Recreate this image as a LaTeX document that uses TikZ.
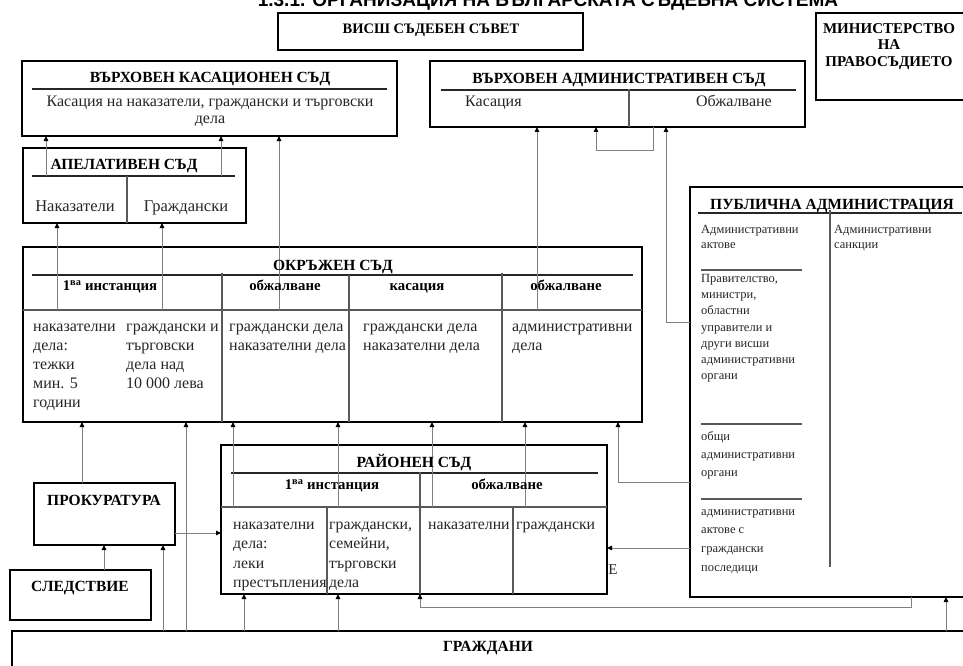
\documentclass[tikz,border=0pt]{standalone}
\usepackage{fontspec}
\setmainfont{Liberation Serif}
\newfontfamily\titlefont{Liberation Sans}
\usetikzlibrary{arrows.meta}
\newcommand\TLft[1]{\begin{tabular}{@{}l@{}}#1\end{tabular}}
\newcommand\TCtr[1]{\begin{tabular}{@{}c@{}}#1\end{tabular}}
\begin{document}
\begin{tikzpicture}[x=1pt,y=-1pt]
\tikzset{
  box/.style={draw=black, line width=2.7pt, fill=white, inner sep=0pt, outer sep=0pt, anchor=north west},
  conn/.style={draw=black!50, line width=0.9pt},
  arr/.style={conn, -{Triangle[length=5pt,width=4.5pt,color=black]}},
  uline/.style={draw=black!85, line width=1.7pt},
  divl/.style={draw=black!65, line width=1.1pt},
  ttl/.style={font=\bfseries\fontsize{15.5}{17}\selectfont, inner sep=0pt, anchor=base, yshift=-5pt},
  hdr/.style={font=\bfseries\fontsize{14.8}{16}\selectfont, inner sep=0pt, anchor=base, yshift=-3.4pt},
  body/.style 2 args={font=\fontsize{#1}{#2}\selectfont, text=black!85, inner sep=0pt, anchor=north west},
  bodyc/.style 2 args={body={#1}{#2}, anchor=north},
}
\clip (0,0) rectangle (963,666);
\fill[white] (0,0) rectangle (963,666);

% title (cut off at the top, as in the source)
\node[font=\titlefont\bfseries\fontsize{19}{21}\selectfont, anchor=base, inner sep=0pt] (title) at (548,7) {1.3.1. ОРГАНИЗАЦИЯ НА БЪЛГАРСКАТА СЪДЕБНА СИСТЕМА};

% boxes
\node[box, minimum width=305pt, minimum height=37pt] (vss) at (278,13) {};
\node[box, minimum width=160pt, minimum height=87pt] (min) at (816,13) {};
\node[box, minimum width=375pt, minimum height=75pt] (vks) at (22,61) {};
\node[box, minimum width=375pt, minimum height=66pt] (vas) at (430,61) {};
\node[box, minimum width=223pt, minimum height=75pt] (apel) at (23,148) {};
\node[box, minimum width=619pt, minimum height=175pt] (okr) at (23,247) {};
\node[box, minimum width=386pt, minimum height=149pt] (rai) at (221,445) {};
\node[box, minimum width=141pt, minimum height=62pt] (prok) at (34,483) {};
\node[box, minimum width=141pt, minimum height=50pt] (sled) at (10,570) {};
\node[box, minimum width=290pt, minimum height=410pt] (pa) at (690,187) {};
\node[box, minimum width=970pt, minimum height=50pt] (grazh) at (12,631) {};

% inner lines
\draw[uline] (32,89) -- (387,89);
\draw[uline] (441,90) -- (796,90);
\draw[divl] (629,89) -- (629,127);
\draw[uline] (32,176) -- (235,176);
\draw[divl] (127,176) -- (127,223);
\draw[uline] (32,275) -- (633,275);
\draw[divl] (23,310) -- (642,310);
\draw[divl] (222,273) -- (222,422);
\draw[divl] (349,275) -- (349,422);
\draw[divl] (502,273) -- (502,422);
\draw[uline] (231,473) -- (598,473);
\draw[divl] (221,507) -- (607,507);
\draw[divl] (420,472) -- (420,594);
\draw[divl] (327,507) -- (327,594);
\draw[divl] (513,507) -- (513,594);
\draw[uline] (698,213) -- (962,213);
\draw[divl] (830,210) -- (830,567);
\draw[divl] (701,270) -- (802,270);
\draw[divl] (701,424) -- (802,424);
\draw[divl] (701,499) -- (802,499);

% start points of connectors inside boxes
\coordinate (apelA) at (46,176);
\coordinate (apelB) at (221,176);
\coordinate (okrA) at (57,310);
\coordinate (okrB) at (162,310);
\coordinate (okrC) at (279,310);
\coordinate (okrD) at (537,310);
\coordinate (raiA) at (233,507);
\coordinate (raiB) at (338,507);
\coordinate (raiC) at (432,507);
\coordinate (raiD) at (525,507);
\coordinate (prokA) at ([xshift=48pt]prok.north west);
\coordinate (sledA) at ([xshift=94pt]sled.north west);
\coordinate (grA) at ([xshift=151pt]grazh.north west);
\coordinate (grB) at ([xshift=174pt]grazh.north west);
\coordinate (grC) at ([xshift=232pt]grazh.north west);
\coordinate (grD) at ([xshift=326pt]grazh.north west);
\coordinate (grE) at ([xshift=934pt]grazh.north west);

% connectors
\draw[arr] (apelA) -- (apelA |- vks.south);
\draw[arr] (apelB) -- (apelB |- vks.south);
\draw[arr] (okrA) -- (okrA |- apel.south);
\draw[arr] (okrB) -- (okrB |- apel.south);
\draw[arr] (okrC) -- (okrC |- vks.south);
\draw[arr] (okrD) -- (okrD |- vas.south);
\draw[arr] ([xshift=223pt]vas.south west) -- ++(0,23) -| ([xshift=166pt]vas.south west);
\draw[arr] ([yshift=-135pt]pa.north west) -| ([xshift=236pt]vas.south west);
\draw[arr] (prokA) -- (prokA |- okr.south);
\draw[arr] (grB) -- (grB |- okr.south);
\draw[arr] (raiA) -- (raiA |- okr.south);
\draw[arr] (raiB) -- (raiB |- okr.south);
\draw[arr] (raiC) -- (raiC |- okr.south);
\draw[arr] (raiD) -- (raiD |- okr.south);
\draw[arr] ([yshift=-295pt]pa.north west) -| ([xshift=595pt]okr.south west);
\draw[arr] (sledA) -- (sledA |- prok.south);
\draw[arr] (grA) -- (grA |- prok.south);
\draw[arr] ([yshift=12pt]prok.south east) -- ([yshift=12pt]prok.south east -| rai.west);
\draw[arr] (grC) -- (grC |- rai.south);
\draw[arr] (grD) -- (grD |- rai.south);
\draw[arr] ([yshift=-361pt]pa.north west) -- ([yshift=-361pt]pa.north west -| rai.east);
\draw[arr] ([xshift=221pt]pa.south west) -- ++(0,10) -| ([xshift=199pt]rai.south west);
\draw[arr] (grE) -- (grE |- pa.south);

% texts
\node[ttl, font=\bfseries\fontsize{14.5}{16}\selectfont] (tvss) at (431,29) {ВИСШ СЪДЕБЕН СЪВЕТ};
\node[font=\bfseries\fontsize{15}{16.5}\selectfont, anchor=north, inner sep=0pt] (tmin) at (889,21.5) {\TCtr{МИНИСТЕРСТВО\\НА\\ПРАВОСЪДИЕТО}};
\node[ttl] (tvks) at (210,78) {ВЪРХОВЕН КАСАЦИОНЕН СЪД};
\node[bodyc={16}{17}] (bvks) at (210,94.8) {\TCtr{Касация на наказатели, граждански и търговски\\дела}};
\node[ttl] (tvas) at (619,79) {ВЪРХОВЕН АДМИНИСТРАТИВЕН СЪД};
\node[body={16}{17}] (bvas1) at (465,94.8) {\TLft{Касация}};
\node[body={16}{17}, anchor=north east] (bvas2) at (772,94.8) {\TLft{Обжалване}};
\node[ttl] (tapel) at (124,164) {АПЕЛАТИВЕН СЪД};
\node[bodyc={16.5}{17}] (bap1) at (75,199.8) {\TCtr{Наказатели}};
\node[bodyc={16.5}{17}] (bap2) at (186,199.8) {\TCtr{Граждански}};

\node[ttl] (tokr) at (333,265) {ОКРЪЖЕН СЪД};
\node[hdr] (hok1) at (110,287) {1\textsuperscript{ва} инстанция};
\node[hdr] (hok2) at (285,287) {обжалване};
\node[hdr] (hok3) at (417,287) {касация};
\node[hdr] (hok4) at (566,287) {обжалване};
\node[body={16}{19.2}] (bok1) at (33,317.5) {\TLft{наказателни\\дела:\\тежки\\мин. 5\\години}};
\node[body={16}{19.2}] (bok2) at (126,317.5) {\TLft{граждански и\\търговски\\дела над\\10 000 лева}};
\node[body={16}{19.2}] (bok3) at (229,317.5) {\TLft{граждански дела\\наказателни дела}};
\node[body={16}{19.2}] (bok4) at (363,317.5) {\TLft{граждански дела\\наказателни дела}};
\node[body={16}{19.2}] (bok5) at (512,317.5) {\TLft{административни\\дела}};

\node[ttl] (trai) at (414,462) {РАЙОНЕН СЪД};
\node[hdr] (hra1) at (332,486) {1\textsuperscript{ва} инстанция};
\node[hdr] (hra2) at (507,486) {обжалване};
\node[body={15.8}{19.2}] (bra1) at (233,516) {\TLft{наказателни\\дела:\\леки\\престъпления}};
\node[body={15.8}{19.2}] (bra2) at (329,516) {\TLft{граждански,\\семейни,\\търговски\\дела}};
\node[body={15.8}{19.2}] (bra3) at (428,516) {\TLft{наказателни}};
\node[body={15.8}{19.2}] (bra4) at (516,516) {\TLft{граждански}};
\node[font=\fontsize{15}{17}\selectfont, text=black!85, inner sep=0pt] (art) at (613,570) {Е};

\node[ttl] (tprok) at (104,500) {ПРОКУРАТУРА};
\node[ttl] (tsled) at (80,586) {СЛЕДСТВИЕ};
\node[ttl] (tgr) at (488,646) {ГРАЖДАНИ};

\node[ttl] (tpa) at (832,204) {ПУБЛИЧНА АДМИНИСТРАЦИЯ};
\node[body={12.5}{15}] (bpa1) at (701,222.4) {\TLft{Административни\\актове}};
\node[body={12.5}{15}] (bpa2) at (834,222.4) {\TLft{Административни\\санкции}};
\node[body={12.5}{16.3}] (bpa3) at (701,270.5) {\TLft{Правителство,\\министри,\\областни\\управители и\\други висши\\административни\\органи}};
\node[body={12.5}{18.2}] (bpa4) at (701,427.2) {\TLft{общи\\административни\\органи}};
\node[body={12.5}{18.7}] (bpa5) at (701,501.8) {\TLft{административни\\актове с\\граждански\\последици}};
\end{tikzpicture}
\end{document}
